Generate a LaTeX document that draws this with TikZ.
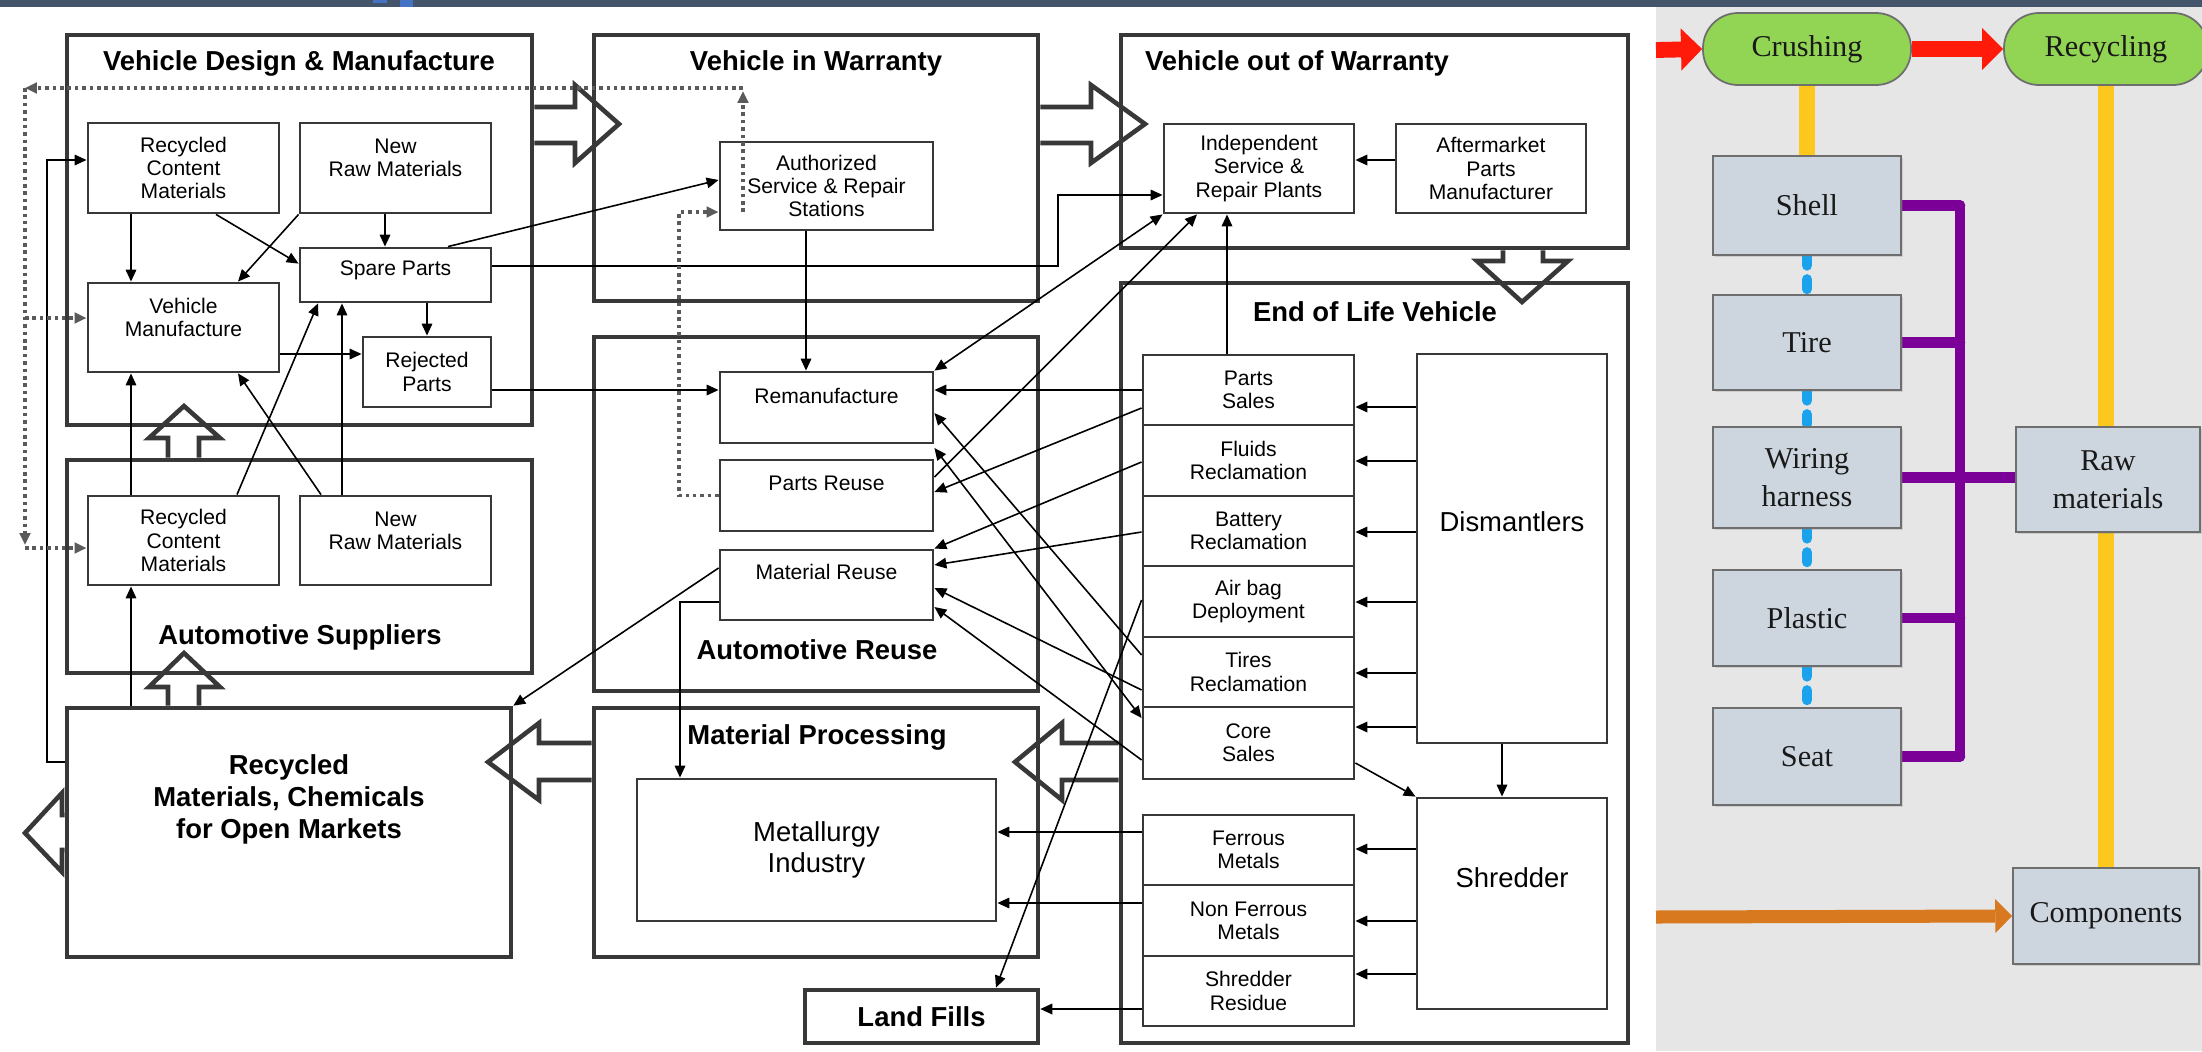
\documentclass[tikz,border=0pt]{standalone}
\usepackage{fontspec}
\setmainfont{Liberation Sans}
\newfontfamily\panelfont{Liberation Serif}
\usepackage{tikz}
\usetikzlibrary{arrows.meta,calc,backgrounds,shadows,positioning}
\definecolor{boxgray}{HTML}{383838}
\definecolor{dotgray}{HTML}{5A5A5A}
\definecolor{bandblue}{HTML}{44546A}
\definecolor{tabblue}{HTML}{4472C4}
\definecolor{panelgray}{HTML}{E6E6E6}
\definecolor{pillgreen}{HTML}{92D453}
\definecolor{cellblue}{HTML}{CDD6DE}
\definecolor{cellline}{HTML}{6E6E6E}
\definecolor{redflow}{HTML}{FF1A0A}
\definecolor{goldline}{HTML}{FCC81E}
\definecolor{skyline}{HTML}{1AA3EC}
\definecolor{purpline}{HTML}{7A0098}
\definecolor{orangeflow}{HTML}{D8781F}

\begin{document}
\begin{tikzpicture}[x=0.01cm, y=-0.01cm,
  >={Triangle[length=3.4pt,width=3pt]},
  wh/.style 2 args={minimum width=#1*0.01cm, minimum height=#2*0.01cm},
  group/.style={draw=boxgray, line width=1.3pt, inner sep=0pt},
  part/.style={draw=boxgray, line width=0.8pt, inner sep=0pt, align=center, font=\fontsize{6}{6.6}\selectfont},
  ptxt/.style={inner sep=0pt, align=center, font=\fontsize{6}{6.6}\selectfont},
  bigtxt/.style={inner sep=0pt, align=center, font=\fontsize{7.8}{8.6}\selectfont},
  title/.style={inner sep=0pt, align=center, font=\fontsize{7.8}{9.1}\selectfont\bfseries},
  flow/.style={->, line width=0.45pt},
  dotflow/.style={->, draw=dotgray, line width=1pt, dash pattern=on 1pt off 1.1pt},
  hollow/.style={draw=boxgray, line width=1.3pt, line join=miter},
  pill/.style={draw=cellline, line width=0.5pt, fill=pillgreen, rounded corners=0.35cm, inner sep=0pt, text=black!90, font=\panelfont\fontsize{8.6}{10.8}\selectfont},
  cell/.style={draw=cellline, line width=0.5pt, fill=cellblue, inner sep=0pt, align=center, text=black!90, font=\panelfont\fontsize{8.6}{10.8}\selectfont, drop shadow={shadow xshift=0.5pt, shadow yshift=-0.5pt, opacity=0.25}},
  gold/.style={draw=goldline, line width=4.3pt},
  sky/.style={draw=skyline, line width=3pt, line cap=round, dash pattern=on 2.7pt off 4pt},
  purp/.style={draw=purpline, line width=3pt, line cap=round},
  redarrow/.style={draw=redflow, line width=4.5pt, -{Triangle[length=6pt,width=12pt,line width=0pt]}},
  orangearrow/.style={draw=orangeflow, line width=3.7pt, -{Triangle[length=4.8pt,width=9.7pt,line width=0pt]}}]
\useasboundingbox (0,0) rectangle (2202,1051);

\begin{scope}[on background layer]
\fill[panelgray] (1656,7) rectangle (2202,1051);
\fill[bandblue] (0,0) rectangle (2202,7);
\fill[tabblue] (373,0) rectangle (387,3);
\fill[tabblue] (400,0) rectangle (413,7);
\end{scope}

% vehicle design & manufacture
\node[group, wh={465}{390}] (vdm) at (299.5,230) {};
\node[title] (vdmT) at (299,63) {Vehicle Design \& Manufacture};
\node[part, wh={191}{90}] (rcmA) at (183.5,168) {Recycled\\Content\\Materials};
\node[part, wh={191}{90}, label={[ptxt,yshift=0.1cm]center:New\\Raw Materials}] (nrmA) at (395.5,168) {};
\node[part, wh={191}{54}, label={[ptxt,yshift=0.05cm]center:Spare Parts}] (spare) at (395.5,275) {};
\node[part, wh={191}{89}, label={[ptxt,yshift=0.1cm]center:Vehicle\\Manufacture}] (vman) at (183.5,327.5) {};
\node[part, wh={128}{70}] (rej) at (427,372) {Rejected\\Parts};

% automotive suppliers
\node[group, wh={465}{213}] (sup) at (299.5,566.5) {};
\node[title] (supT) at (300,637) {Automotive Suppliers};
\node[part, wh={191}{89}] (rcmB) at (183.5,540.5) {Recycled\\Content\\Materials};
\node[part, wh={191}{89}, label={[ptxt,yshift=0.1cm]center:New\\Raw Materials}] (nrmB) at (395.5,540.5) {};

% recycled materials
\node[group, wh={444}{249}, label={[title,yshift=0.335cm]center:Recycled\\Materials, Chemicals\\for Open Markets}] (rmk) at (289,832.5) {};

% vehicle in warranty
\node[group, wh={444}{266}] (viw) at (816,168) {};
\node[title] (viwT) at (816,63) {Vehicle in Warranty};
\node[part, wh={213}{88}] (auth) at (826.5,186) {Authorized\\Service \& Repair\\Stations};

% automotive reuse
\node[group, wh={444}{354}] (reuse) at (816,514) {};
\node[title] (reuseT) at (817,650) {Automotive Reuse};
\node[part, wh={213}{71}, label={[ptxt,yshift=0.12cm]center:Remanufacture}] (reman) at (826.5,407.5) {};
\node[part, wh={213}{71}, label={[ptxt,yshift=0.12cm]center:Parts Reuse}] (preuse) at (826.5,495.5) {};
\node[part, wh={213}{70}, label={[ptxt,yshift=0.13cm]center:Material Reuse}] (mreuse) at (826.5,585) {};

% material processing
\node[group, wh={444}{249}] (proc) at (816,832.5) {};
\node[title] (procT) at (817,737) {Material Processing};
\node[part, wh={359}{142}, font=\fontsize{7.8}{8.6}\selectfont] (metal) at (816.5,850) {Metallurgy\\Industry};
\node[group, wh={233}{53}, font=\fontsize{7.8}{9.1}\selectfont\bfseries] (land) at (921.5,1016.5) {Land Fills};

% vehicle out of warranty
\node[group, wh={507}{213}] (vow) at (1374.5,141.5) {};
\node[title] (vowT) at (1297,63) {Vehicle out of Warranty};
\node[part, wh={190}{89}] (indep) at (1259,168.5) {Independent\\Service \&\\Repair Plants};
\node[part, wh={190}{89}] (after) at (1491,168.5) {Aftermarket\\Parts\\Manufacturer};

% end of life vehicle
\node[group, wh={507}{760}] (elv) at (1374.5,663) {};
\node[title] (elvT) at (1375,312) {End of Life Vehicle};
\foreach \nm/\yy/\hh/\txt in {psales/390/70/{Parts\\Sales}, fluids/460.5/71/{Fluids\\Reclamation},
    battery/531/70/{Battery\\Reclamation}, airbag/601.5/71/{Air bag\\Deployment},
    tires/672/70/{Tires\\Reclamation}, core/743/72/{Core\\Sales},
    ferrous/850/70/{Ferrous\\Metals}, nonfer/920.5/71/{Non Ferrous\\Metals}, resid/991/70/{Shredder\\Residue}}
  \node[part, wh={211}{\hh}] (\nm) at (1248.5,\yy) {\txt};
\node[part, wh={190}{389}, label={[bigtxt,yshift=0.265cm]center:Dismantlers}] (dism) at (1512,548.5) {};
\node[part, wh={190}{211}, label={[bigtxt,yshift=0.255cm]center:Shredder}] (shred) at (1512,903.5) {};

% hollow block arrows
\draw[hollow] (vdm.east |- 0,107) -- (575,107) -- (575,85) -- (619,124) -- (575,163) -- (575,143) -- (vdm.east |- 0,143);
\draw[hollow] (viw.east |- 0,107) -- (1091,107) -- (1091,85) -- (1145,124) -- (1091,163) -- (1091,143) -- (viw.east |- 0,143);
\draw[hollow] (1503,0 |- vow.south) -- (1503,261) -- (1477,261) -- (1522,302) -- (1568,261) -- (1543,261) -- (1543,0 |- vow.south);
\draw[hollow] (168,0 |- sup.north) -- (168,438) -- (149,438) -- (184,406) -- (220,438) -- (199,438) -- (199,0 |- sup.north);
\draw[hollow] (168,0 |- rmk.north) -- (168,687) -- (149,687) -- (184,653) -- (220,687) -- (199,687) -- (199,0 |- rmk.north);
\draw[hollow] (elv.west |- 0,743) -- (1062,743) -- (1062,723) -- (1015,762) -- (1062,800) -- (1062,780) -- (elv.west |- 0,780);
\draw[hollow] (proc.west |- 0,743) -- (539,743) -- (539,723) -- (488,762) -- (539,800) -- (539,780) -- (proc.west |- 0,780);
\draw[hollow] (rmk.west |- 0,815) -- (62,815) -- (62,793) -- (25,833) -- (62,872) -- (62,850) -- (rmk.west |- 0,850);

% design & manufacture flows
\draw[flow] (131,0 |- rcmA.south) -- (131,0 |- vman.north);
\draw[flow] (216,0 |- rcmA.south) -- ($(spare.north west)+(0,17)$);
\draw[flow] (nrmA.south west) -- (238,0 |- vman.north);
\draw[flow] (385,0 |- nrmA.south) -- (385,0 |- spare.north);
\draw[flow] (rej.north |- spare.south) -- (rej.north);
\draw[flow] (vman.east |- 0,354) -- (rej.west |- 0,354);
\draw[flow] (448,0 |- spare.north) -- (auth.west |- 0,180);
\draw[flow] (spare.east |- 0,266) -| (1058,195) -- (indep.west |- 0,195);
\draw[flow] (rej.east |- 0,390) -- (reman.west |- 0,390);

% supplier flows
\draw[flow] (131,0 |- rcmB.north) -- (131,0 |- vman.south);
\draw[flow] (237,0 |- rcmB.north) -- (318,0 |- spare.south);
\draw[flow] (321,0 |- nrmB.north) -- (238,0 |- vman.south);
\draw[flow] (342,0 |- nrmB.north) -- (342,0 |- spare.south);
\draw[flow] (131,0 |- rmk.north) -- (131,0 |- rcmB.south);
\draw[flow] (rmk.west |- 0,762) -| (47,160) -- (rcmA.west |- 0,160);

% reuse flows
\draw[flow] (806,0 |- auth.south) -- (806,0 |- reman.north);
\draw[flow] (psales.west) -- (reman.east |- psales.west);
\draw[flow] (psales.west |- 0,408) -- (preuse.east |- 0,492);
\draw[flow] (fluids.west |- 0,462) -- (mreuse.north east);
\draw[flow] (battery.west |- 0,532) -- (mreuse.east |- 0,565);
\draw[flow] (tires.west |- 0,690) -- (mreuse.east |- 0,588);
\draw[flow] (core.west |- 0,760) -- (mreuse.east |- 0,607);
\draw[flow] (tires.west |- 0,655) -- (reman.east |- 0,413);
\draw[flow, <->] (reman.north east) -- (indep.south west);
\draw[flow, <->] (reman.east |- 0,448) -- (core.west |- 0,718);
\draw[flow] (preuse.east |- 0,477) -- (1197,0 |- indep.south);
\draw[flow] (1227,0 |- psales.north) -- (1227,0 |- indep.south);
\draw[flow] (after.west |- 0,160) -- (indep.east |- 0,160);

% processing flows
\draw[flow] (airbag.west |- 0,600) -- (996,0 |- land.north);
\draw[flow] (resid.west |- 0,1009) -- (land.east |- 0,1009);
\draw[flow] (ferrous.west |- 0,832) -- (metal.east |- 0,832);
\draw[flow] (nonfer.west |- 0,903) -- (metal.east |- 0,903);
\draw[flow] (mreuse.west |- 0,568) -- (rmk.north east);
\draw[flow] (mreuse.west |- 0,602) -| (680,0 |- metal.north);

% dismantler & shredder flows
\foreach \yy/\nm in {407/psales, 461/fluids, 532/battery, 602/airbag, 673/tires, 727/core}
  \draw[flow] (dism.west |- 0,\yy) -- (\nm.east |- 0,\yy);
\draw[flow] (1502,0 |- dism.south) -- (1502,0 |- shred.north);
\draw[flow] (core.east |- 0,763) -- (shred.north west);
\foreach \yy/\nm in {849/ferrous, 921/nonfer, 974/resid}
  \draw[flow] (shred.west |- 0,\yy) -- (\nm.east |- 0,\yy);

% dotted parts-reuse loop
\coordinate (dIn) at (743,212);
\coordinate (dUp) at (743,88);
\coordinate (dCorner) at (25,88);
\coordinate (dLow) at (25,548);
\draw[dotflow] (preuse.west) -| (679,212) -- (auth.west |- 0,212);
\draw[dotflow] (dIn) -- ($(dUp)+(0,3)$);
\draw[dotflow] (dUp) -- (dCorner);
\draw[dotflow] (dCorner) -- ($(dLow)+(0,-3)$);
\draw[dotflow] (dLow) -- (rcmB.west |- dLow);
\draw[dotflow] (dCorner |- 0,318) -- (vman.west |- 0,318);

% recycling panel
\node[pill, wh={208}{72}] (crush) at (1807,49) {Crushing};
\node[pill, wh={204}{72}] (recyc) at (2106,49) {Recycling};
\node[cell, wh={188}{99}] (shell) at (1807,205.5) {Shell};
\node[cell, wh={188}{95}] (tire) at (1807,342.5) {Tire};
\node[cell, wh={188}{101}] (wiring) at (1807,477.5) {Wiring\\harness};
\node[cell, wh={188}{96}] (plastic) at (1807,618) {Plastic};
\node[cell, wh={188}{97}] (seat) at (1807,756.5) {Seat};
\node[cell, wh={184}{105}] (raw) at (2108,479.5) {Raw\\materials};
\node[cell, wh={186}{96}] (comp) at (2106,916) {Components};
\coordinate (redIn) at (1656,50);
\coordinate (orIn) at (1656,917);

\begin{scope}[on background layer]
\draw[gold] (crush.south) -- (shell.north);
\draw[gold] (recyc.south) -- (recyc.south |- raw.north);
\draw[gold] (comp.north |- raw.south) -- (comp.north);
\foreach \a/\b in {shell/tire, tire/wiring, wiring/plastic, plastic/seat}
  \draw[sky] (\a.south) -- (\b.north);
\draw[purp] (1960,0 |- shell.east) -- (1960,0 |- seat.east);
\foreach \nm in {shell, tire, wiring, plastic, seat}
  \draw[purp] (\nm.east) -- (1960,0 |- \nm.east);
\draw[purp] (wiring.east) -- (raw.west |- wiring.east);
\end{scope}
\draw[redarrow] (redIn) -- (crush.west);
\draw[redarrow] (crush.east) -- (recyc.west);
\draw[orangearrow] (orIn) -- (comp.west);

\end{tikzpicture}
\end{document}
